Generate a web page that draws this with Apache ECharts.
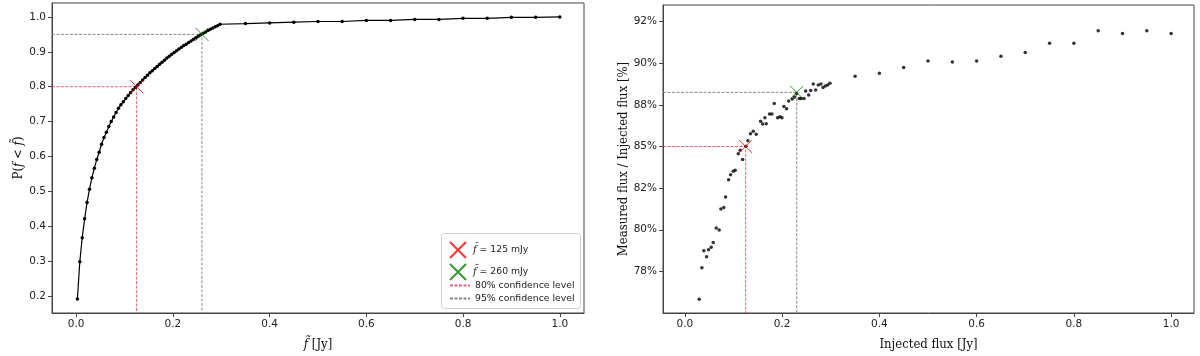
<!DOCTYPE html>
<html>
<head>
<meta charset="utf-8">
<script src="https://cdn.jsdelivr.net/npm/echarts@6/dist/echarts.min.js"></script>
<style>
  html, body { margin: 0; padding: 0; background: #fff; }
  #chart { width: 1200px; height: 356px; }
</style>
</head>
<body>
<div id="chart"></div>
<script>
// left panel: cumulative distribution P(f < f~)
const cdfX = [0.0025, 0.0075, 0.0125, 0.0175, 0.0225, 0.0275, 0.0325, 0.0375, 0.0425, 0.0475,
  0.0525, 0.0575, 0.0625, 0.0675, 0.0725, 0.0775, 0.0825, 0.0875, 0.0925, 0.0975,
  0.1025, 0.1075, 0.1125, 0.1175, 0.1225, 0.1275, 0.1325, 0.1375, 0.1425, 0.1475,
  0.1525, 0.1575, 0.1625, 0.1675, 0.1725, 0.1775, 0.1825, 0.1875, 0.1925, 0.1975,
  0.2025, 0.2075, 0.2125, 0.2175, 0.2225, 0.2275, 0.2325, 0.2375, 0.2425, 0.2475,
  0.2525, 0.2575, 0.2625, 0.2675, 0.2725, 0.2775, 0.2825, 0.2875, 0.2925, 0.2975,
  0.35, 0.40, 0.45, 0.50, 0.55, 0.60, 0.65, 0.70, 0.75, 0.80, 0.85, 0.90, 0.95, 1.00];
const cdfY = [0.191, 0.298, 0.367, 0.421, 0.468, 0.506, 0.539, 0.566, 0.591, 0.612,
  0.635, 0.654, 0.669, 0.686, 0.700, 0.713, 0.726, 0.738, 0.748, 0.757,
  0.766, 0.775, 0.783, 0.791, 0.798, 0.805, 0.812, 0.819, 0.826, 0.833,
  0.840, 0.846, 0.852, 0.858, 0.864, 0.870, 0.876, 0.882, 0.887, 0.893,
  0.898, 0.903, 0.908, 0.913, 0.918, 0.922, 0.927, 0.931, 0.936, 0.940,
  0.945, 0.949, 0.953, 0.957, 0.961, 0.965, 0.968, 0.972, 0.975, 0.979,
  0.981, 0.983, 0.985, 0.987, 0.987, 0.990, 0.990, 0.993, 0.993, 0.996, 0.996, 0.999, 0.999, 1.000];
const cdfMarks = [[0.125, 0.80], [0.26, 0.95]];   // 80% and 95% levels
const cdfXTicks = [0.0, 0.2, 0.4, 0.6, 0.8, 1.0];
const cdfYTicks = [0.2, 0.3, 0.4, 0.5, 0.6, 0.7, 0.8, 0.9, 1.0];

// right panel: measured / injected flux
const injX = [0.0295, 0.035, 0.039, 0.0446, 0.0487, 0.0542, 0.0583, 0.0645, 0.0706, 0.074,
  0.080, 0.0837, 0.0899, 0.094, 0.0995, 0.1035, 0.1097, 0.1138, 0.1187, 0.1255,
  0.1296, 0.135, 0.1406, 0.1467, 0.1557, 0.1598, 0.1646, 0.1673, 0.1742, 0.179,
  0.1838, 0.1907, 0.1955, 0.1996, 0.2037, 0.2092, 0.2134, 0.2208, 0.2257, 0.2298,
  0.2352, 0.2393, 0.2449, 0.2484, 0.2545, 0.2587, 0.264, 0.269, 0.2743, 0.2798,
  0.284, 0.2887, 0.2936, 0.2984,
  0.35, 0.40, 0.45, 0.50, 0.55, 0.60, 0.65, 0.70, 0.75, 0.80, 0.85, 0.90, 0.95, 1.00];
const ratioY = [0.7583, 0.7772, 0.7874, 0.7838, 0.7880, 0.7895, 0.7923, 0.8011, 0.7999, 0.8125,
  0.8134, 0.8197, 0.8300, 0.8330, 0.8352, 0.8358, 0.8456, 0.8478, 0.8422, 0.8502,
  0.8535, 0.8577, 0.8591, 0.8573, 0.8651, 0.8635, 0.8673, 0.8637, 0.8695, 0.8695,
  0.8759, 0.8673, 0.8679, 0.8673, 0.8741, 0.8727, 0.8774, 0.8786, 0.8798, 0.8819,
  0.8789, 0.8789, 0.8789, 0.8834, 0.8810, 0.8837, 0.8876, 0.8840, 0.8870, 0.8876,
  0.8855, 0.8864, 0.8870, 0.8880,
  0.8922, 0.8940, 0.8974, 0.9014, 0.9008, 0.9014, 0.9042, 0.9064, 0.9121, 0.9121, 0.9195, 0.9179, 0.9195, 0.9179];
const ratioMarks = [[0.125, 0.85], [0.23, 0.8825]];
const ratioXTicks = [0.0, 0.2, 0.4, 0.6, 0.8, 1.0];
const ratioYTicks = [0.775, 0.8, 0.825, 0.85, 0.875, 0.9, 0.925];
const ratioYLabels = ['78%', '80%', '82%', '85%', '88%', '90%', '92%'];

const L = { xmin: -0.05, xmax: 1.05, ymin: 0.151, ymax: 1.04 };
const R = { xmin: -0.045, xmax: 1.047, ymin: 0.75, ymax: 0.935 };

const RED = 'red', GREEN = '#008000';
const RED_DASH = 'rgba(240,40,70,0.75)', GRAY_DASH = '#8a8a8a';
const X_ICON = 'path://M0,0L16,16M16,0L0,16';
const serif = '"DejaVu Serif Condensed", "DejaVu Serif", serif';
const sans = 'DejaVu Sans';

const zip = (xs, ys) => xs.map((x, i) => [x, ys[i]]);
const elbow = (p, xmin, ymin) => [[xmin, p[1]], [p[0], p[1]], [p[0], ymin]];

const titleStyle = {
  fontFamily: serif, fontSize: 13, color: '#111',
  rich: { i: { fontFamily: serif, fontStyle: 'italic', fontSize: 13, color: '#111' } }
};

function xAxis(grid, lim, ticks, name) {
  return {
    type: 'value', gridIndex: grid, min: lim.xmin, max: lim.xmax,
    name: name, nameLocation: 'middle', nameGap: 25, nameTextStyle: titleStyle,
    axisLine: { show: true, onZero: false, lineStyle: { color: '#444', width: 1 } },
    axisTick: { show: true, length: 4, customValues: ticks, lineStyle: { color: '#444' } },
    axisLabel: { customValues: ticks, fontFamily: sans, fontSize: 10.5, color: '#222', margin: 6, formatter: v => v.toFixed(1) },
    splitLine: { show: false }
  };
}

function yAxis(grid, lim, ticks, name, fmt, gap) {
  return {
    type: 'value', gridIndex: grid, min: lim.ymin, max: lim.ymax,
    name: name, nameLocation: 'middle', nameGap: gap, nameRotate: 90, nameTextStyle: titleStyle,
    axisLine: { show: true, onZero: false, lineStyle: { color: '#444', width: 1 } },
    axisTick: { show: true, length: 4, customValues: ticks, lineStyle: { color: '#444' } },
    axisLabel: { customValues: ticks, fontFamily: sans, fontSize: 10.5, color: '#222', margin: 6, formatter: fmt },
    splitLine: { show: false }
  };
}

function dashed(name, grid, color, pts) {
  return {
    name: name, type: 'line', xAxisIndex: grid, yAxisIndex: grid, data: pts,
    symbol: 'none', silent: true, z: 1,
    itemStyle: { color: color },
    lineStyle: { color: color, width: 1, type: [3, 1.5] }
  };
}

function cross(name, grid, color, p) {
  return {
    name: name, type: 'scatter', xAxisIndex: grid, yAxisIndex: grid, data: [p],
    symbol: X_ICON, symbolSize: 13, z: 5,
    itemStyle: { color: 'rgba(0,0,0,0)', borderColor: color, borderWidth: 1 }
  };
}

const name125 = 'f̃ = 125 mJy', name260 = 'f̃ = 260 mJy';
const name80 = '80% confidence level', name95 = '95% confidence level';

const chart = echarts.init(document.getElementById('chart'), null, { renderer: 'canvas' });
chart.setOption({
  animation: false,
  backgroundColor: '#fff',
  grid: [
    { left: 52, right: 616, top: 3, bottom: 43, show: true, borderColor: '#444', borderWidth: 1, backgroundColor: 'transparent' },
    { left: 663, right: 6, top: 5, bottom: 41, show: true, borderColor: '#444', borderWidth: 1, backgroundColor: 'transparent' }
  ],
  xAxis: [
    xAxis(0, L, cdfXTicks, '{i|f̃} [Jy]'),
    xAxis(1, R, ratioXTicks, 'Injected flux [Jy]')
  ],
  yAxis: [
    yAxis(0, L, cdfYTicks, 'P({i|f} < {i|f̃})', v => v.toFixed(1), 27),
    yAxis(1, R, ratioYTicks, 'Measured flux / Injected flux [%]',
      v => { const i = ratioYTicks.findIndex(t => Math.abs(t - v) < 1e-6); return i >= 0 ? ratioYLabels[i] : ''; }, 32)
  ],
  legend: [
    {
      left: 444, top: 236, orient: 'vertical', itemWidth: 20, itemHeight: 16, itemGap: 4,
      data: [name125, name260],
      textStyle: { fontFamily: sans, fontSize: 9.3, color: '#222', rich: { i: { fontFamily: serif, fontStyle: 'italic', fontSize: 11, color: '#222' } } },
      formatter: n => n.replace('f̃', '{i|f̃}'),
      selectedMode: false
    },
    {
      left: 444, top: 276, orient: 'vertical', itemWidth: 20, itemHeight: 10, itemGap: 4,
      data: [
        { name: name80, itemStyle: { opacity: 0 } },
        { name: name95, itemStyle: { opacity: 0 } }
      ],
      textStyle: { fontFamily: sans, fontSize: 9.3, color: '#222' },
      selectedMode: false
    }
  ],
  graphic: [{
    type: 'rect', left: 441, top: 233, z: 0,
    shape: { width: 139, height: 75, r: 3 },
    style: { fill: 'rgba(255,255,255,0.85)', stroke: '#d0d0d0', lineWidth: 1 }
  }],
  series: [
    dashed(name80, 0, RED_DASH, elbow(cdfMarks[0], L.xmin, L.ymin)),
    dashed(name95, 0, GRAY_DASH, elbow(cdfMarks[1], L.xmin, L.ymin)),
    {
      name: 'cdf', type: 'line', xAxisIndex: 0, yAxisIndex: 0, data: zip(cdfX, cdfY),
      symbol: 'circle', symbolSize: 3.5, showAllSymbol: true, z: 3,
      lineStyle: { color: '#000', width: 1.2 }, itemStyle: { color: '#000' }
    },
    cross(name125, 0, RED, cdfMarks[0]),
    cross(name260, 0, GREEN, cdfMarks[1]),

    dashed(name80, 1, RED_DASH, elbow(ratioMarks[0], R.xmin, R.ymin)),
    dashed(name95, 1, GRAY_DASH, elbow(ratioMarks[1], R.xmin, R.ymin)),
    {
      name: 'ratio', type: 'scatter', xAxisIndex: 1, yAxisIndex: 1, data: zip(injX, ratioY),
      symbol: 'circle', symbolSize: 3.5, z: 3, itemStyle: { color: '#000' }
    },
    cross('r125', 1, RED, ratioMarks[0]),
    cross('r230', 1, GREEN, ratioMarks[1])
  ]
});
</script>
</body>
</html>
